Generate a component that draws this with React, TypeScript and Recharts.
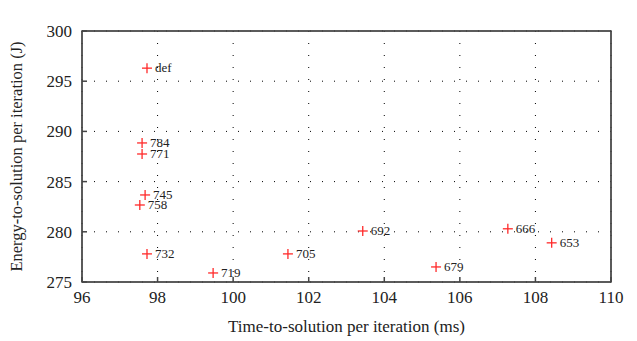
import React from 'react';
import { ScatterChart, Scatter, XAxis, YAxis, CartesianGrid, LabelList, ReferenceArea } from 'recharts';

const labels = ['def', '784', '771', '745', '758', '732', '719', '705', '692', '679', '666', '653'];
const timeMs = [97.72, 97.59, 97.59, 97.67, 97.53, 97.72, 99.47, 101.45, 103.43, 105.37, 107.27, 108.43];
const energyJ = [296.3, 288.85, 287.75, 283.67, 282.67, 277.8, 275.9, 277.8, 280.08, 276.5, 280.3, 278.9];
const xTicks = [96, 98, 100, 102, 104, 106, 108, 110];
const yTicks = [275, 280, 285, 290, 295, 300];

const data = labels.map((name, i) => ({ name, x: timeMs[i], y: energyJ[i] }));

const X_DOMAIN: [number, number] = [96, 110];
const Y_DOMAIN: [number, number] = [275, 300];

const FONT = '"Liberation Serif", "DejaVu Serif", serif';
const FRAME = '#444';
const TICK = 5;

const Plus = (props: any) => {
  const { cx, cy } = props;
  if (cx == null || cy == null) return null;
  return (
    <g>
      <line x1={cx - 5} x2={cx + 5} y1={cy} y2={cy} stroke="#ff2a2a" strokeWidth={1.3} />
      <line x1={cx} x2={cx} y1={cy - 5} y2={cy + 5} stroke="#ff2a2a" strokeWidth={1.3} />
    </g>
  );
};

const PointLabel = (props: any) => {
  const { x, y, width, height, value } = props;
  const cx = x + (width || 0) / 2;
  const cy = y + (height || 0) / 2;
  return (
    <text x={cx + 8} y={cy + 4} fontSize={13} fontFamily={FONT} fill="#222">
      {value}
    </text>
  );
};

const BottomTick = (props: any) => {
  const { x, y, payload } = props;
  return (
    <g>
      <line x1={x} x2={x} y1={y} y2={y - TICK} stroke={FRAME} strokeWidth={1.5} />
      <text x={x} y={y + 21} textAnchor="middle" fontSize={17} fontFamily={FONT} fill="#222">
        {payload.value}
      </text>
    </g>
  );
};

const TopTick = (props: any) => {
  const { x, y } = props;
  return <line x1={x} x2={x} y1={y} y2={y + TICK} stroke={FRAME} strokeWidth={1.5} />;
};

const LeftTick = (props: any) => {
  const { x, y, payload } = props;
  return (
    <g>
      <line x1={x} x2={x + TICK} y1={y} y2={y} stroke={FRAME} strokeWidth={1.5} />
      <text x={x - 10} y={y + 6} textAnchor="end" fontSize={17} fontFamily={FONT} fill="#222">
        {payload.value}
      </text>
    </g>
  );
};

const RightTick = (props: any) => {
  const { x, y } = props;
  return <line x1={x} x2={x - TICK} y1={y} y2={y} stroke={FRAME} strokeWidth={1.5} />;
};

export default function App() {
  return (
    <ScatterChart width={629} height={333} margin={{ top: 3, right: 6, bottom: 0, left: 0 }}>
      <CartesianGrid stroke="#000" strokeDasharray="1 11" />
      <XAxis
        type="number"
        dataKey="x"
        domain={X_DOMAIN}
        ticks={xTicks}
        height={59}
        tickSize={0}
        tickMargin={0}
        interval={0}
        stroke={FRAME}
        tick={<BottomTick />}
        label={{ value: 'Time-to-solution per iteration (ms)', position: 'insideBottom', offset: 9, fill: '#222', fontSize: 17, fontFamily: FONT }}
      />
      <XAxis
        type="number"
        dataKey="x"
        xAxisId="top"
        orientation="top"
        domain={X_DOMAIN}
        ticks={xTicks}
        height={20}
        tickSize={0}
        tickMargin={0}
        interval={0}
        stroke={FRAME}
        tick={<TopTick />}
      />
      <YAxis
        type="number"
        dataKey="y"
        domain={Y_DOMAIN}
        ticks={yTicks}
        width={74}
        tickSize={0}
        tickMargin={0}
        interval={0}
        stroke={FRAME}
        tick={<LeftTick />}
        label={{ value: 'Energy-to-solution per iteration (J)', angle: -90, position: 'insideLeft', offset: 8, style: { textAnchor: 'middle' }, fill: '#222', fontSize: 16.5, fontFamily: FONT }}
      />
      <YAxis
        type="number"
        dataKey="y"
        yAxisId="right"
        orientation="right"
        domain={Y_DOMAIN}
        ticks={yTicks}
        width={20}
        tickSize={0}
        tickMargin={0}
        interval={0}
        stroke={FRAME}
        tick={<RightTick />}
      />
      <ReferenceArea
        x1={X_DOMAIN[0]}
        x2={X_DOMAIN[1]}
        y1={Y_DOMAIN[0]}
        y2={Y_DOMAIN[1]}
        ifOverflow="visible"
        fill="transparent"
        stroke={FRAME}
        strokeWidth={1.5}
      />
      <Scatter data={data} shape={<Plus />} isAnimationActive={false}>
        <LabelList dataKey="name" content={<PointLabel />} />
      </Scatter>
    </ScatterChart>
  );
}
